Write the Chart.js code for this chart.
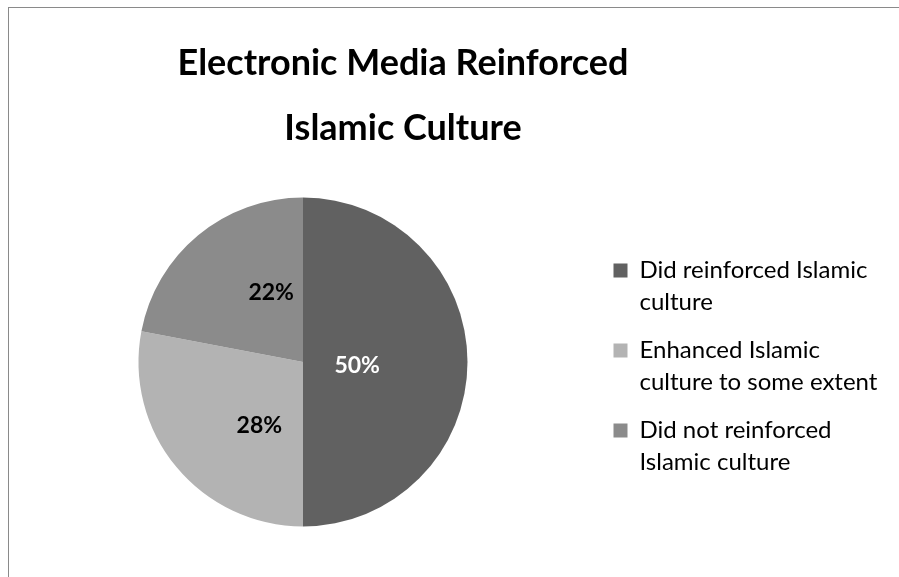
<!DOCTYPE html>
<html>
<head>
<meta charset="utf-8">
<title>Electronic Media Reinforced Islamic Culture</title>
<script src="https://cdn.jsdelivr.net/npm/chart.js@4/dist/chart.umd.min.js"></script>
<style>
    html, body {
        margin: 0;
        padding: 0;
        background: #ffffff;
        overflow: hidden;
    }
    .frame {
        position: absolute;
        left: 8px;
        top: 7px;
        width: 1000px;
        height: 700px;
        border-left: 1px solid #8a8a8a;
        border-top: 1px solid #8a8a8a;
    }
    .chart-box {
        position: absolute;
        left: 0;
        top: 0;
        width: 899px;
        height: 577px;
    }
</style>
</head>
<body>
<div class="frame"></div>
<div class="chart-box">
    <canvas id="pieChart" width="899" height="577"></canvas>
</div>
<script>
// Survey answers (percent of respondents)
const titleLines = ['Electronic Media Reinforced', 'Islamic Culture'];
const categories = [
    ['Did reinforced Islamic', 'culture'],
    ['Enhanced Islamic', 'culture to some extent'],
    ['Did not reinforced', 'Islamic culture']
];
const shares = [50, 28, 22];

// Slice fills and label colours
const sliceColors = ['#616161', '#b3b3b3', '#8b8b8b'];
const labelColors = ['#ffffff', '#000000', '#000000'];
// Where each percentage sits inside its slice: share of the radius and a turn off the mid angle (deg)
const labelPlacement = [
    { dist: 0.33, turn: 4 },
    { dist: 0.47, turn: -16 },
    { dist: 0.465, turn: 15 }
];

// Two-line heading, centred over the whole frame rather than over the pie
const heading = {
    id: 'heading',
    afterDraw(chart) {
        const ctx = chart.ctx;
        ctx.save();
        ctx.font = 'bold 36px Lato';
        ctx.fillStyle = '#000000';
        ctx.textAlign = 'center';
        ctx.textBaseline = 'alphabetic';
        titleLines.forEach((line, i) => {
            ctx.fillText(line, 403, 75 + i * 65);
        });
        ctx.restore();
    }
};

// Writes the percentage inside each slice
const sliceLabels = {
    id: 'sliceLabels',
    afterDatasetsDraw(chart) {
        const ctx = chart.ctx;
        const meta = chart.getDatasetMeta(0);
        const values = chart.data.datasets[0].data;
        ctx.save();
        ctx.font = 'bold 23px Lato';
        ctx.textAlign = 'center';
        ctx.textBaseline = 'middle';
        meta.data.forEach((arc, i) => {
            const p = arc.getProps(['x', 'y', 'startAngle', 'endAngle', 'outerRadius'], true);
            const place = labelPlacement[i];
            const angle = (p.startAngle + p.endAngle) / 2 + place.turn * Math.PI / 180;
            const r = p.outerRadius * place.dist;
            ctx.fillStyle = labelColors[i];
            ctx.fillText(values[i] + '%', p.x + Math.cos(angle) * r, p.y + Math.sin(angle) * r);
        });
        ctx.restore();
    }
};

const ctx = document.getElementById('pieChart').getContext('2d');
const chart = new Chart(ctx, {
    type: 'pie',
    data: {
        labels: categories,
        datasets: [{
            data: shares,
            backgroundColor: sliceColors,
            borderWidth: 0,
            hoverOffset: 0
        }]
    },
    options: {
        responsive: false,
        animation: false,
        layout: {
            // top leaves room for the heading
            padding: { left: 9, right: 22, top: 197.5, bottom: 50.5 }
        },
        plugins: {
            title: { display: false },
            legend: {
                display: true,
                position: 'right',
                align: 'center',
                fullSize: false,
                maxWidth: 280,
                // empty title, only pushes the entries down a little
                title: {
                    display: true,
                    text: '',
                    font: { size: 1, lineHeight: 0 },
                    padding: { top: 16.4, bottom: 0 }
                },
                labels: {
                    boxWidth: 14,
                    boxHeight: 14,
                    padding: 16.5,
                    color: '#000000',
                    font: { family: 'Lato', size: 24, lineHeight: 31.75 / 24 }
                }
            },
            tooltip: { enabled: false }
        }
    },
    plugins: [heading, sliceLabels]
});
</script>
</body>
</html>
